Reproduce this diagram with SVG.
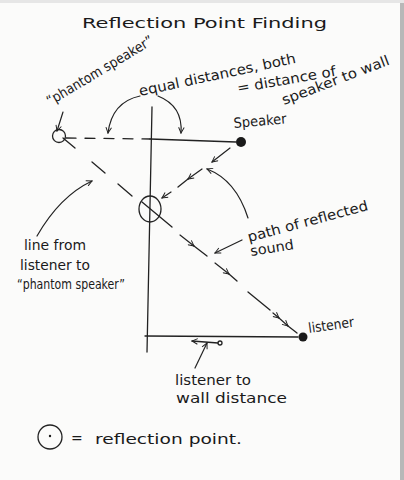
<svg xmlns="http://www.w3.org/2000/svg" width="404" height="480" viewBox="0 0 404 480">
<defs>
<marker id="ah" viewBox="0 0 10 10" refX="9" refY="5" markerWidth="7" markerHeight="7" markerUnits="userSpaceOnUse" orient="auto">
<path d="M1,1 L9,5 L1,9" fill="none" stroke="#222" stroke-width="1.4"/>
</marker>
<marker id="ahs" viewBox="0 0 10 10" refX="1" refY="5" markerWidth="7" markerHeight="7" markerUnits="userSpaceOnUse" orient="auto">
<path d="M9,1 L1,5 L9,9" fill="none" stroke="#222" stroke-width="1.4"/>
</marker>
</defs>
<style>
.ln{fill:none;stroke:#222;stroke-width:1.3;stroke-linecap:round}
.ar{fill:none;stroke:#222;stroke-width:1.2;stroke-linecap:round;marker-end:url(#ah)}
.t{font-family:"DejaVu Sans","Liberation Sans",sans-serif;fill:#1a1a1a;font-size:14px}
.dot{fill:#1a1a1a}
</style>
<rect width="404" height="480" fill="#fbfbfa"/>
<rect x="400" y="0" width="4" height="480" fill="#b8b8b8"/>
<rect x="0" y="0" width="404" height="3" fill="#e6e6e6"/>

<text class="t" x="82" y="28" font-size="25" textLength="245" lengthAdjust="spacingAndGlyphs">Reflection Point Finding</text>

<g id="wall">
<path class="ln" d="M152,107 L147,352"/>
</g>

<g id="phantom-speaker">
<circle class="ln" cx="59" cy="136" r="6.5"/>
<text class="t" x="50" y="106" transform="rotate(-31 50 106)" textLength="122" lengthAdjust="spacingAndGlyphs">“phantom speaker”</text>
</g>

<g id="speaker">
<circle class="dot" cx="241" cy="142" r="5"/>
<text class="t" x="234" y="128" transform="rotate(-5 234 128)" textLength="53" lengthAdjust="spacingAndGlyphs">Speaker</text>
</g>

<g id="listener">
<circle class="dot" cx="303" cy="337" r="4.5"/>
<text class="t" x="309" y="333" transform="rotate(-8 309 333)" textLength="46" lengthAdjust="spacingAndGlyphs">listener</text>
</g>

<g id="reflection-point">
<ellipse class="ln" cx="150" cy="209" rx="11" ry="13"/>
</g>

<g id="equal-label">
<text class="t" x="140" y="96" font-size="14" transform="rotate(-12 140 96)" textLength="160" lengthAdjust="spacingAndGlyphs">equal distances, both</text>
<text class="t" x="238" y="93" font-size="13" transform="rotate(-10 238 93)" textLength="100" lengthAdjust="spacingAndGlyphs">= distance of</text>
<text class="t" x="284" y="105" font-size="13" transform="rotate(-21 284 105)" textLength="114" lengthAdjust="spacingAndGlyphs">speaker to wall</text>
</g>

<g id="line-label">
<text class="t" x="24" y="250" textLength="62" lengthAdjust="spacingAndGlyphs">line from</text>
<text class="t" x="20" y="270" textLength="70" lengthAdjust="spacingAndGlyphs">listener to</text>
<text class="t" x="17" y="289" font-size="13" textLength="108" lengthAdjust="spacingAndGlyphs">“phantom speaker”</text>
</g>

<g id="path-label">
<text class="t" x="249" y="242" transform="rotate(-15 249 242)" textLength="124" lengthAdjust="spacingAndGlyphs">path of reflected</text>
<text class="t" x="251" y="256" transform="rotate(-9 251 256)" textLength="44" lengthAdjust="spacingAndGlyphs">sound</text>
</g>

<g id="distance-label">
<text class="t" x="175" y="385" font-size="15" textLength="76" lengthAdjust="spacingAndGlyphs">listener to</text>
<text class="t" x="176" y="403" font-size="15" textLength="111" lengthAdjust="spacingAndGlyphs">wall distance</text>
</g>

<g id="legend">
<circle class="ln" cx="50" cy="437" r="12"/>
<circle class="dot" cx="50" cy="436" r="1.2"/>
<text class="t" x="71" y="443" font-size="17">=</text>
<text class="t" x="95" y="444" font-size="17" textLength="147" lengthAdjust="spacingAndGlyphs">reflection point.</text>
</g>

<g id="connectors">
<path class="ln" d="M150,139 L236,142"/>
<path class="ln" d="M66,138 L150,139" stroke-dasharray="10 9"/>
<path class="ln" d="M145,336 L298,337"/>
<path class="ln" d="M63,138 L75,148"/>
<path class="ln" d="M92,162 L105,173"/>
<path class="ln" d="M118,184 L132,196"/>
<path class="ln" d="M142,202 L172,227"/>
<path class="ar" d="M180,235 L194,246"/>
<path class="ln" d="M194,246 L207,256"/>
<path class="ar" d="M215,263 L229,274"/>
<path class="ln" d="M229,274 L237,281"/>
<path class="ln" d="M248,292 L270,310"/>
<path class="ar" d="M273,313 L279,318"/>
<path class="ar" d="M279,318 L288,326"/>
<path class="ln" d="M288,326 L297,333"/>
<path class="ar" d="M230,148 L212,162"/>
<path class="ar" d="M202,169 L188,179"/>
<path class="ln" d="M188,179 L178,187"/>
<path class="ar" d="M171,192 L162,198"/>
<path class="ar" d="M63,112 L57,131"/>
<path class="ar" d="M140,96 Q112,102 108,133"/>
<path class="ar" d="M158,96 Q183,106 181,133"/>
<path class="ar" d="M37,236 Q60,196 92,181"/>
<path class="ar" d="M248,218 Q236,180 207,169"/>
<path class="ar" d="M242,240 L215,253"/>
<path class="ar" d="M195,368 L207,343"/>
<path class="ln" d="M192,341 L218,343" marker-start="url(#ahs)"/>
<circle class="ln" cx="220" cy="343" r="2"/>
</g>
</svg>
